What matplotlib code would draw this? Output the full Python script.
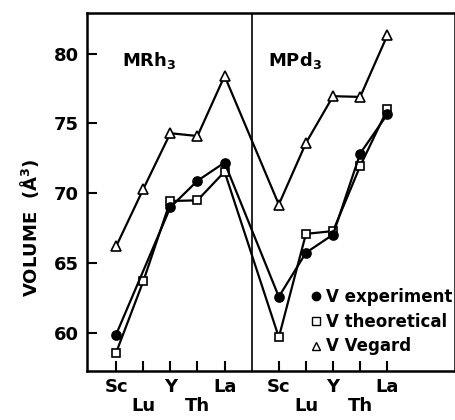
import numpy as np
import matplotlib
matplotlib.use("Agg")
import matplotlib.pyplot as plt
from matplotlib.lines import Line2D

elements = ["Sc", "Lu", "Y", "Th", "La"]
x_rh = [0, 1, 2, 3, 4]
x_pd = [6, 7, 8, 9, 10]
divider = 5

vegard_rh = [66.2, 70.3, 74.3, 74.1, 78.4]
vegard_pd = [69.2, 73.6, 76.95, 76.9, 81.3]
exper_rh = [59.9, np.nan, 69.0, 70.9, 72.2]
exper_pd = [62.6, 65.75, 67.05, 72.85, 75.65]
theo_rh = [58.6, 63.7, 69.45, 69.5, 71.55]
theo_pd = [59.7, 67.1, 67.3, 71.95, 76.0]

yticks = [60, 65, 70, 75, 80]

plt.rcParams['font.family'] = ['DejaVu Sans']
plt.rcParams['font.weight'] = 'bold'

fig = plt.figure(figsize=(4.56, 4.2), dpi=100)
ax = fig.add_axes([0.191, 0.117, 0.807, 0.852])

def clean(xs, ys):
    xs = np.array(xs, float); ys = np.array(ys, float)
    m = ~np.isnan(ys)
    return xs[m], ys[m]

xall = x_rh + x_pd
series = [
    (vegard_rh + vegard_pd, dict(marker='^', mfc='white', mec='black', ms=7)),
    (theo_rh + theo_pd, dict(marker='s', mfc='white', mec='black', ms=6)),
    (exper_rh + exper_pd, dict(marker='o', mfc='black', mec='black', ms=6.5)),
]
for ys, st in series:
    xs, yv = clean(xall, ys)
    ax.plot(xs, yv, color='black', lw=1.6, mew=1.2, **st)

ax.axvline(divider, color='black', lw=1.2)

ax.set_xlim(-1.07, 12.5)
ax.set_ylim(57.3, 82.9)
ax.set_yticks(yticks)
ax.set_yticklabels([str(v) for v in yticks], fontsize=13, fontweight='bold')
ax.set_xticks(xall)
labels = []
for e in elements:
    labels.append("\n" + e if e in ("Lu", "Th") else e)
ax.set_xticklabels(labels * 2, fontsize=13, fontweight='bold', linespacing=1.1)
ax.tick_params(direction='in', length=7, width=1.5, pad=6)
ax.tick_params(axis='x', pad=5)
for s in ax.spines.values():
    s.set_linewidth(1.8)

ax.set_ylabel("VOLUME  (Å$^3$)", fontsize=13, fontweight='bold')
ax.yaxis.set_label_coords(-0.125, 0.40)

ax.text(0.2, 79.5, "MRh$_3$", fontsize=13, fontweight='bold', va='center')
ax.text(5.6, 79.5, "MPd$_3$", fontsize=13, fontweight='bold', va='center')

handles = [
    Line2D([], [], ls='none', marker='o', mfc='black', mec='black', ms=6),
    Line2D([], [], ls='none', marker='s', mfc='white', mec='black', ms=5.5),
    Line2D([], [], ls='none', marker='^', mfc='white', mec='black', ms=6),
]
leg = ax.legend(handles, ["V experiment", "V theoretical", "V Vegard"],
                loc='lower right', bbox_to_anchor=(1.02, 0.015),
                frameon=False, handlelength=0.6,
                handletextpad=0.3, labelspacing=0.4, borderaxespad=0.2,
                prop=dict(size=12, weight='bold'))

fig.savefig("out.png", dpi=100)
